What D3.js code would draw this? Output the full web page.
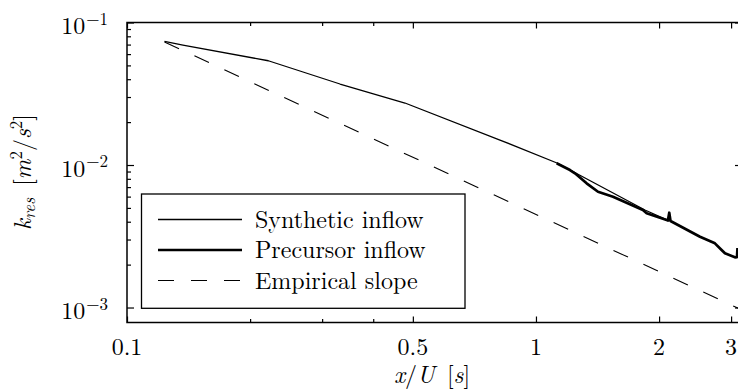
<!DOCTYPE html>
<html><head><meta charset="utf-8">
<script src="https://cdn.jsdelivr.net/npm/d3@7"></script>
<style>html,body{margin:0;padding:0;background:#fff;} svg{display:block;}</style>
</head><body>
<svg id="chart" width="738" height="391"></svg>
<script>
// Resolved turbulent kinetic energy decay along the domain
const synthX = [0.1235, 0.1370, 0.2216, 0.3318, 0.4783, 0.8166, 1.1255, 1.847, 2.09];
const synthY = [0.0736, 0.0695, 0.0539, 0.03702, 0.02723, 0.01497, 0.01033, 0.004833, 0.00412];
const precX = [1.1235, 1.211, 1.2455, 1.330, 1.418, 1.543, 1.826, 1.865, 2.087, 2.102, 2.118, 2.133, 2.518, 2.739, 2.844, 2.898, 3.066, 3.101, 3.110];
const precY = [0.01028, 0.009224, 0.008746, 0.007439, 0.006495, 0.005990, 0.004833, 0.004582, 0.004111, 0.004080, 0.004626, 0.004046, 0.003139, 0.002821, 0.002532, 0.002401, 0.002250, 0.002260, 0.002616];
const slopeX = [0.1235, 3.19];
const slopeY = [0.0730, 0.00096];

const xMajorTicks = [0.1, 0.5, 1, 2, 3];
const xMajorLabels = ["0.1", "0.5", "1", "2", "3"];
const xMinorTicks = [0.2, 0.3, 0.4];
const yMajorTicks = [1e-3, 1e-2, 1e-1];
const yMajorExponents = ["−3", "−2", "−1"];
const yMinorTicks = [2e-3, 3e-3, 4e-3, 5e-3, 6e-3, 7e-3, 8e-3, 9e-3,
                     2e-2, 3e-2, 4e-2, 5e-2, 6e-2, 7e-2, 8e-2, 9e-2];
const legendLabels = ["Synthetic inflow", "Precursor inflow", "Empirical slope"];

const FONT = '"Latin Modern Roman", "Liberation Serif", "Times New Roman", serif';
const plot = {left: 127, top: 22.5, right: 742, bottom: 322.5};

const svg = d3.select("#chart");
const x = d3.scaleLog().domain([0.1, 3.19]).range([plot.left, plot.right]);
const y = d3.scaleLog().domain([7.85e-4, 0.1]).range([plot.bottom, plot.top]);

svg.append("defs").append("clipPath").attr("id", "plotClip")
  .append("rect").attr("x", plot.left).attr("y", plot.top)
  .attr("width", plot.right - plot.left).attr("height", plot.bottom - plot.top);

function label(sel, size) {
  return sel.style("font-family", FONT).attr("font-size", size).attr("fill", "#000");
}

// axis ticks (inward on all four sides)
function ticks(axisGen, transform, values, size) {
  const g = svg.append("g").attr("transform", transform)
    .call(axisGen.tickValues(values).tickSize(size).tickFormat(""));
  g.select(".domain").remove();
  g.selectAll(".tick line").attr("stroke", "#000").attr("stroke-width", 1.2);
  return g;
}
ticks(d3.axisBottom(x), `translate(0,${plot.bottom})`, xMajorTicks, -6);
ticks(d3.axisBottom(x), `translate(0,${plot.bottom})`, xMinorTicks, -3.5);
ticks(d3.axisTop(x), `translate(0,${plot.top})`, xMajorTicks, -6);
ticks(d3.axisTop(x), `translate(0,${plot.top})`, xMinorTicks, -3.5);
ticks(d3.axisLeft(y), `translate(${plot.left},0)`, yMajorTicks, -7);
ticks(d3.axisLeft(y), `translate(${plot.left},0)`, yMinorTicks, -4);
ticks(d3.axisRight(y), `translate(${plot.right},0)`, yMajorTicks, -7);
ticks(d3.axisRight(y), `translate(${plot.right},0)`, yMinorTicks, -4);

// frame
svg.append("rect").attr("x", plot.left).attr("y", plot.top)
  .attr("width", plot.right - plot.left).attr("height", plot.bottom - plot.top)
  .attr("fill", "none").attr("stroke", "#000").attr("stroke-width", 1.5);

// tick labels
label(svg.append("g").selectAll("text").data(xMajorTicks).join("text"), 24)
  .attr("x", d => x(d)).attr("y", 355).attr("text-anchor", "middle")
  .text((d, i) => xMajorLabels[i]);

const yl = label(svg.append("g").selectAll("text").data(yMajorTicks).join("text"), 24)
  .attr("x", 108).attr("y", d => y(d) + 11.5).attr("text-anchor", "end");
yl.append("tspan").text("10");
yl.append("tspan").attr("font-size", 17).attr("dy", -9.5).attr("dx", 1)
  .text((d, i) => yMajorExponents[i]);

// axis titles
const xt = label(svg.append("text"), 24).attr("x", 432).attr("y", 383).attr("text-anchor", "middle");
xt.append("tspan").attr("font-style", "italic").text("x");
xt.append("tspan").text("/");
xt.append("tspan").attr("font-style", "italic").text("U");
xt.append("tspan").text("\u00a0[");
xt.append("tspan").attr("font-style", "italic").text("s");
xt.append("tspan").text("]");

const yt = label(svg.append("text"), 24).attr("transform", "translate(31,172) rotate(-90)")
  .attr("text-anchor", "middle");
yt.append("tspan").attr("font-style", "italic").text("k");
yt.append("tspan").attr("font-style", "italic").attr("font-size", 17).attr("dy", 4).text("res");
yt.append("tspan").attr("dy", -4).text("\u00a0[");
yt.append("tspan").attr("font-style", "italic").text("m");
yt.append("tspan").attr("font-size", 17).attr("dy", -9).text("2");
yt.append("tspan").attr("dy", 9).text("/");
yt.append("tspan").attr("font-style", "italic").text("s");
yt.append("tspan").attr("font-size", 17).attr("dy", -9).text("2");
yt.append("tspan").attr("dy", 9).text("]");

// series
const line = d3.line().x(d => x(d[0])).y(d => y(d[1]));
const lines = svg.append("g").attr("clip-path", "url(#plotClip)").attr("fill", "none").attr("stroke", "#000");
lines.append("path").datum(d3.zip(slopeX, slopeY)).attr("d", line)
  .attr("stroke-width", 1.1).attr("stroke-dasharray", "16,17");
lines.append("path").datum(d3.zip(synthX, synthY)).attr("d", line)
  .attr("stroke-width", 1.3).attr("stroke-linejoin", "round");
lines.append("path").datum(d3.zip(precX, precY)).attr("d", line)
  .attr("stroke-width", 2.7).attr("stroke-linejoin", "round");

// legend
const lg = svg.append("g");
lg.append("rect").attr("x", 141.5).attr("y", 194).attr("width", 323.5).attr("height", 114.3)
  .attr("fill", "#fff").attr("stroke", "#000").attr("stroke-width", 1.3);
const rowY = [219.5, 250, 280.5];
const rowStyle = [{w: 1.3, dash: null}, {w: 2.7, dash: null}, {w: 1.1, dash: "16,17"}];
legendLabels.forEach((lab, i) => {
  lg.append("line").attr("x1", 158).attr("x2", 242).attr("y1", rowY[i]).attr("y2", rowY[i])
    .attr("stroke", "#000").attr("stroke-width", rowStyle[i].w)
    .attr("stroke-dasharray", rowStyle[i].dash);
  label(lg.append("text"), 24).attr("x", 255).attr("y", rowY[i] + 8).text(lab);
});
</script>
</body></html>
